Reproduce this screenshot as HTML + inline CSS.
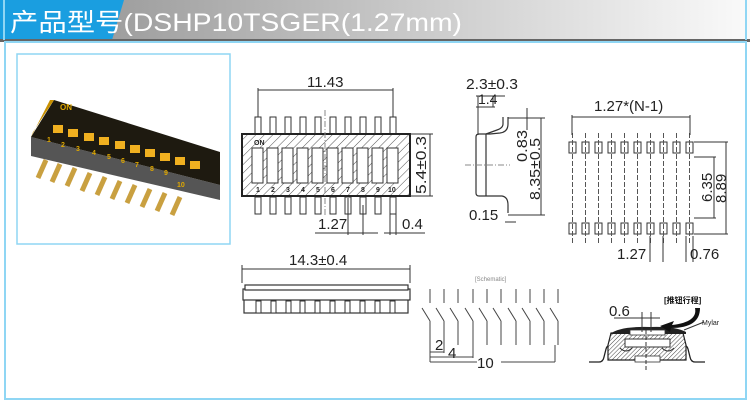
<!DOCTYPE html>
<html><head><meta charset="utf-8"><style>
html,body{margin:0;padding:0;background:#fff;}
body{width:750px;height:405px;overflow:hidden;position:relative;font-family:"Liberation Sans","Noto Sans CJK SC",sans-serif;}
svg{position:absolute;left:0;top:0;}
</style></head><body>
<svg width="750" height="405" viewBox="0 0 750 405" xmlns="http://www.w3.org/2000/svg">
<defs>
<linearGradient id="hg" x1="0" x2="1" y1="0" y2="0">
<stop offset="0" stop-color="#8e8e8e"/><stop offset="0.5" stop-color="#c4c4c4"/><stop offset="1" stop-color="#fafafa"/>
</linearGradient>
<pattern id="hatch" patternUnits="userSpaceOnUse" width="6" height="6" patternTransform="rotate(45)">
<rect width="6" height="6" fill="#fff"/><line x1="0" y1="0" x2="0" y2="6" stroke="#555" stroke-width="1"/>
</pattern>
<pattern id="hatch2" patternUnits="userSpaceOnUse" width="3" height="3" patternTransform="rotate(45)">
<rect width="3" height="3" fill="#fff"/><line x1="0" y1="0" x2="0" y2="3" stroke="#444" stroke-width="1"/>
</pattern>
</defs>
<!-- header -->
<rect x="0" y="0" width="750" height="40" fill="url(#hg)"/>
<polygon points="0,0 124,0 112,40 0,40" fill="#1a9ee0"/>
<rect x="0" y="39" width="750" height="3" fill="#666"/>
<text x="10" y="31" font-size="25" fill="#fff" textLength="452" lengthAdjust="spacingAndGlyphs">产品型号(DSHP10TSGER(1.27mm)</text>
<rect x="3" y="0" width="2" height="40" fill="#8fd6f4"/>
<rect x="745" y="0" width="2" height="40" fill="#8fd6f4"/>
<!-- frame -->
<rect x="5" y="42" width="741" height="357" fill="none" stroke="#8fd6f4" stroke-width="2"/>
<!-- photo box -->
<rect x="17" y="54" width="213" height="190" fill="#fff" stroke="#8fd6f4" stroke-width="1.5"/>
<g>
<g stroke-width="5" stroke-linecap="butt" stroke="#c9a040">
<line x1="46" y1="160" x2="38" y2="178"/><line x1="60" y1="164" x2="52" y2="182"/><line x1="75" y1="168" x2="67" y2="186"/><line x1="90" y1="173" x2="82" y2="191"/><line x1="105" y1="177" x2="97" y2="195"/><line x1="120" y1="181" x2="112" y2="199"/><line x1="135" y1="185" x2="127" y2="203"/><line x1="150" y1="189" x2="142" y2="207"/><line x1="165" y1="193" x2="157" y2="211"/><line x1="180" y1="197" x2="172" y2="215"/>
</g>
<polygon points="31,137 220,185 220,200 31,156" fill="#555"/>
<polygon points="54,100 220,152 220,185 31,137" fill="#1e1a10"/>
<polygon points="54,100 33,132 31,137 50,100" fill="#c89000"/>
<text x="60" y="110" font-size="8" fill="#e0a800" font-weight="bold">ON</text>
<g fill="#f0b020">
<rect x="53" y="125" width="10" height="8"/><rect x="68" y="129" width="10" height="8"/><rect x="84" y="133" width="10" height="8"/><rect x="99" y="137" width="10" height="8"/><rect x="115" y="141" width="10" height="8"/><rect x="130" y="145" width="10" height="8"/><rect x="145" y="149" width="10" height="8"/><rect x="160" y="153" width="10" height="8"/><rect x="175" y="157" width="10" height="8"/><rect x="190" y="161" width="10" height="8"/>
</g>
<g font-size="7" fill="#e0a800" font-weight="bold">
<text x="47" y="142">1</text><text x="61" y="147">2</text><text x="76" y="151">3</text><text x="92" y="155">4</text><text x="107" y="159">5</text><text x="121" y="163">6</text><text x="135" y="167">7</text><text x="150" y="171">8</text><text x="164" y="175">9</text><text x="177" y="187">10</text>
</g>
</g>

<!-- front view -->
<g stroke="#333" fill="none" stroke-width="1">
<g id="pinsT">
<rect x="255" y="117" width="6" height="17" fill="#fff"/><rect x="270" y="117" width="6" height="17" fill="#fff"/><rect x="285" y="117" width="6" height="17" fill="#fff"/><rect x="300" y="117" width="6" height="17" fill="#fff"/><rect x="315" y="117" width="6" height="17" fill="#fff"/><rect x="330" y="117" width="6" height="17" fill="#fff"/><rect x="345" y="117" width="6" height="17" fill="#fff"/><rect x="360" y="117" width="6" height="17" fill="#fff"/><rect x="375" y="117" width="6" height="17" fill="#fff"/><rect x="390" y="117" width="6" height="17" fill="#fff"/>
</g>
<use href="#pinsT" y="80"/>
<rect x="242" y="134" width="168" height="62" fill="url(#hatch)" stroke="#222" stroke-width="2"/>
<g fill="#fff">
<rect x="252" y="148" width="11" height="35"/><rect x="267" y="148" width="11" height="35"/><rect x="282" y="148" width="11" height="35"/><rect x="297" y="148" width="11" height="35"/><rect x="312" y="148" width="11" height="35"/><rect x="327" y="148" width="11" height="35"/><rect x="342" y="148" width="11" height="35"/><rect x="357" y="148" width="11" height="35"/><rect x="372" y="148" width="11" height="35"/><rect x="387" y="148" width="11" height="35"/>
</g>
<line x1="258" y1="90" x2="393" y2="90"/><line x1="258" y1="88" x2="258" y2="117"/><line x1="393" y1="88" x2="393" y2="117"/>
<line x1="410" y1="134" x2="433" y2="134"/><line x1="410" y1="196" x2="433" y2="196"/><line x1="430" y1="134" x2="430" y2="196"/>
<line x1="348" y1="198" x2="348" y2="235"/><line x1="363" y1="205" x2="363" y2="235"/><line x1="315" y1="233" x2="378" y2="233"/>
<line x1="390" y1="205" x2="390" y2="235"/><line x1="396" y1="205" x2="396" y2="235"/><line x1="384" y1="233" x2="425" y2="233"/>
<line x1="325" y1="110" x2="325" y2="215" stroke-dasharray="6,2,1,2" stroke="#888"/>
</g>
<g font-size="15" fill="#222">
<text x="307" y="87">11.43</text>
<text x="318" y="229">1.27</text>
<text x="402" y="229">0.4</text>
<text transform="translate(426,194) rotate(-90)" textLength="58" lengthAdjust="spacingAndGlyphs">5.4±0.3</text>
</g>
<g font-size="7" fill="#222" font-weight="bold"><text x="254" y="145">ON</text>
<text x="256" y="192">1</text><text x="271" y="192">2</text><text x="286" y="192">3</text><text x="301" y="192">4</text><text x="316" y="192">5</text><text x="331" y="192">6</text><text x="346" y="192">7</text><text x="361" y="192">8</text><text x="376" y="192">9</text><text x="388" y="192">10</text></g>

<!-- side view -->
<g stroke="#333" fill="none" stroke-width="1.2">
<path d="M508,117 L508,124 Q508,132 500,133 L490,134 L479,134 Q476,134 476,137 L476,193 Q476,196 479,196 L502,196 Q508,197 508,205 L508,213"/>
<path d="M503,117 L503,124 Q503,128 497,130 L486,134"/>
<line x1="486" y1="134" x2="486" y2="196"/>
<line x1="478" y1="96" x2="478" y2="135" stroke-width="1"/><line x1="493" y1="96" x2="493" y2="107" stroke-width="1"/>
<line x1="476" y1="96" x2="505" y2="96" stroke-width="1"/>
<line x1="476" y1="107" x2="495" y2="107" stroke-width="1"/>
<line x1="508" y1="118" x2="545" y2="118" stroke-width="1"/>
<line x1="508" y1="215" x2="545" y2="215" stroke-width="1"/>
<line x1="541" y1="118" x2="541" y2="215" stroke-width="1"/>
<line x1="527" y1="108" x2="527" y2="130" stroke-width="1"/>
<line x1="505" y1="222" x2="516" y2="222" stroke-width="1"/>
<line x1="465" y1="165" x2="510" y2="165" stroke-dasharray="6,2,1,2" stroke="#888" stroke-width="1"/>
</g>
<g font-size="15" fill="#222">
<text x="466" y="89" textLength="52" lengthAdjust="spacingAndGlyphs">2.3±0.3</text>
<text x="478" y="104" font-size="14">1.4</text>
<text x="469" y="220">0.15</text>
<text transform="translate(527,162) rotate(-90)" textLength="32" lengthAdjust="spacingAndGlyphs">0.83</text>
<text transform="translate(540,200) rotate(-90)" textLength="62" lengthAdjust="spacingAndGlyphs">8.35±0.5</text>
</g>

<!-- PCB layout -->
<g stroke="#333" fill="#fff" stroke-width="1">
<g id="pads">
<rect x="569" y="142" width="7" height="11"/><rect x="582" y="142" width="7" height="11"/><rect x="595" y="142" width="7" height="11"/><rect x="608" y="142" width="7" height="11"/><rect x="621" y="142" width="7" height="11"/><rect x="634" y="142" width="7" height="11"/><rect x="647" y="142" width="7" height="11"/><rect x="660" y="142" width="7" height="11"/><rect x="673" y="142" width="7" height="11"/><rect x="686" y="142" width="7" height="11"/>
</g>
<use href="#pads" y="81"/>
<g stroke-dasharray="5,2" stroke="#555">
<line x1="572.5" y1="133" x2="572.5" y2="245"/><line x1="585.5" y1="133" x2="585.5" y2="245"/><line x1="598.5" y1="133" x2="598.5" y2="245"/><line x1="611.5" y1="133" x2="611.5" y2="245"/><line x1="624.5" y1="133" x2="624.5" y2="245"/><line x1="637.5" y1="133" x2="637.5" y2="245"/><line x1="650.5" y1="133" x2="650.5" y2="245"/><line x1="663.5" y1="133" x2="663.5" y2="245"/><line x1="676.5" y1="133" x2="676.5" y2="245"/><line x1="689.5" y1="133" x2="689.5" y2="245"/>
</g>
<line x1="572" y1="117" x2="690" y2="117"/><line x1="572" y1="115" x2="572" y2="135"/><line x1="690" y1="115" x2="690" y2="135"/>
<line x1="694" y1="142" x2="728" y2="142"/><line x1="694" y1="234" x2="728" y2="234"/><line x1="726" y1="142" x2="726" y2="234"/>
<line x1="694" y1="157" x2="716" y2="157"/><line x1="694" y1="218" x2="716" y2="218"/><line x1="714" y1="157" x2="714" y2="218"/>
<line x1="650" y1="236" x2="650" y2="262"/><line x1="663" y1="236" x2="663" y2="262"/>
<line x1="686" y1="236" x2="686" y2="262"/><line x1="693" y1="236" x2="693" y2="262"/>
</g>
<g font-size="15" fill="#222">
<text x="594" y="111">1.27*(N-1)</text>
<text x="617" y="259">1.27</text>
<text x="690" y="259">0.76</text>
<text transform="translate(712,202) rotate(-90)">6.35</text>
<text transform="translate(726,203) rotate(-90)">8.89</text>
</g>

<!-- bottom view -->
<g stroke="#333" fill="#fff" stroke-width="1.2">
<line x1="242" y1="269" x2="410" y2="269" stroke-width="1"/>
<line x1="242" y1="265" x2="242" y2="283" stroke-width="1"/><line x1="410" y1="265" x2="410" y2="283" stroke-width="1"/>
<rect x="244" y="299" width="164" height="14"/>
<rect x="243" y="289" width="167" height="11"/>
<rect x="245" y="285" width="163" height="5"/>
<g stroke-width="1"><rect x="256" y="301" width="5" height="12"/><rect x="271" y="301" width="5" height="12"/><rect x="286" y="301" width="5" height="12"/><rect x="300" y="301" width="5" height="12"/><rect x="315" y="301" width="5" height="12"/><rect x="330" y="301" width="5" height="12"/><rect x="345" y="301" width="5" height="12"/><rect x="360" y="301" width="5" height="12"/><rect x="375" y="301" width="5" height="12"/><rect x="390" y="301" width="5" height="12"/></g>
</g>
<text x="289" y="265" font-size="15" fill="#222">14.3±0.4</text>

<!-- schematic -->
<text x="475" y="281" font-size="6" fill="#888">[Schematic]</text>
<g stroke="#444" stroke-width="1" fill="none">
<path d="M430,289v14 M444,289v14 M458,289v14 M473,289v14 M487,289v14 M501,289v14 M516,289v14 M530,289v14 M544,289v14 M558,289v14"/>
<path d="M422,308l8,13 M436,308l8,13 M450,308l8,13 M465,308l8,13 M479,308l8,13 M493,308l8,13 M508,308l8,13 M522,308l8,13 M536,308l8,13 M550,308l8,13"/>
<path d="M430,321v24 M444,321v24 M458,321v24 M473,321v24 M487,321v24 M501,321v24 M516,321v24 M530,321v24 M544,321v24 M558,321v24"/>
<path d="M430,345v17 M444,345v8 M473,345v13 M555,345v17"/>
<path d="M430,352h14 M430,357h43 M430,362h47 M501,362h54"/>
</g>
<g font-size="15" fill="#222"><text x="435" y="350">2</text><text x="448" y="358">4</text><text x="477" y="368">10</text></g>

<!-- cross section -->
<g stroke="#222" stroke-width="1.3" fill="none">
<path d="M589,362 h10 q4,0 5,-5 l2,-8 q1,-4 5,-4 h5"/>
<path d="M705,362 h-10 q-4,0 -5,-5 l-2,-8 q-1,-4 -5,-4 h-5"/>
</g>
<path d="M608,345 L611,333 L683,333 L686,345 L686,360 L608,360 Z" fill="url(#hatch2)" stroke="#222" stroke-width="1.2"/>
<rect x="625" y="339" width="45" height="8" fill="#fff" stroke="#333" stroke-width="1"/>
<path d="M610,334 Q620,326 650,327 Q675,326 686,332 L686,334 Z" fill="#222"/>
<rect x="630" y="330" width="35" height="5" fill="#fff" stroke="#333" stroke-width="0.8"/>
<rect x="635" y="356" width="25" height="6" fill="#fff" stroke="#333" stroke-width="0.8"/>
<path d="M620,348 q6,6 12,0 M662,348 q6,6 12,0" stroke="#333" fill="none"/>
<g stroke="#333" stroke-width="1" fill="none">
<line x1="614" y1="318" x2="640" y2="318"/>
<line x1="642" y1="312" x2="642" y2="332"/><line x1="651" y1="312" x2="651" y2="332"/>
<line x1="635" y1="318" x2="660" y2="318"/>
<line x1="646" y1="330" x2="646" y2="372" stroke-dasharray="4,2"/>
<line x1="684" y1="330" x2="704" y2="322"/>
</g>
<path d="M695,308 Q698,322 672,325 L674,321 L660,326 L670,332 L671,328 Q700,328 700,308 Z" fill="#111"/>
<text x="609" y="316" font-size="15" fill="#222">0.6</text>
<text x="664" y="303" font-size="8" fill="#111" font-weight="bold">[推钮行程]</text>
<text x="702" y="325" font-size="7" fill="#222">Mylar</text>
</svg>
</body></html>
